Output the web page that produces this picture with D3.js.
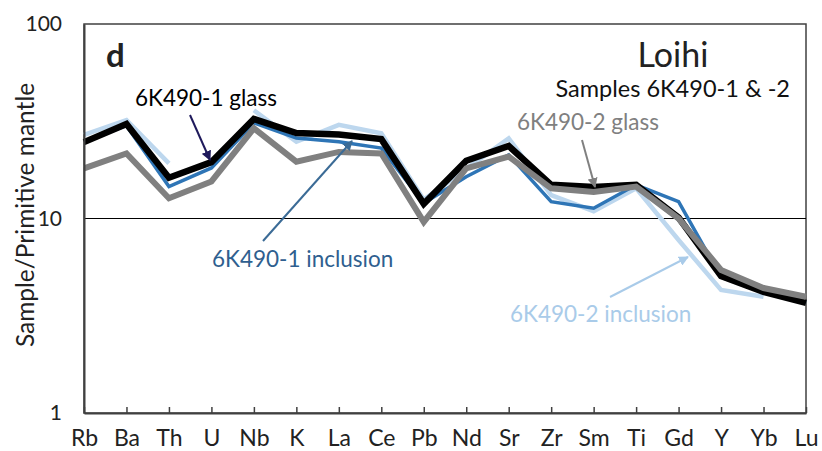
<!DOCTYPE html>
<html>
<head>
<meta charset="utf-8">
<script src="https://cdn.jsdelivr.net/npm/d3@7"></script>
<style>
  body { margin: 0; background: #fff; }
  text { font-family: Lato, "Open Sans", sans-serif; }
</style>
</head>
<body>
<div id="chart"></div>
<script>
// Elements along the x axis
const elements = ["Rb", "Ba", "Th", "U", "Nb", "K", "La", "Ce", "Pb", "Nd", "Sr", "Zr", "Sm", "Ti", "Gd", "Y", "Yb", "Lu"];

// Sample / primitive mantle values (null = no data)
const incl2 = [26.9, 32.1, 19.2, null, 36.0, 24.8, 30.3, 27.4, 12.5, 18.0, 25.8, 13.2, 10.9, 14.3, 7.75, 4.29, 3.96, null];
const incl1 = [25.0, 30.0, 14.6, 18.2, 31.0, 25.9, 24.8, 23.0, 12.0, 16.4, 21.2, 12.2, 11.3, 14.9, 12.2, 5.0, 4.2, 3.7];
const glass1 = [24.7, 30.6, 16.2, 19.5, 32.5, 27.5, 27.0, 25.6, 11.9, 19.8, 23.6, 14.9, 14.5, 14.9, 10.1, 5.06, 4.19, 3.68];
const glass2 = [18.1, 21.6, 12.7, 15.5, 29.1, 19.6, 22.0, 21.6, 9.6, 18.1, 20.8, 14.3, 13.7, 14.6, 10.0, 5.44, 4.39, 3.96];

const yTicks = [1, 10, 100];

// Set dimensions and margins
const margin = { top: 24, right: 16, bottom: 38, left: 84 };
const width = 822 - margin.left - margin.right;
const height = 451 - margin.top - margin.bottom;

const xScale = d3.scalePoint()
    .domain(elements)
    .range([0, width]);

const yScale = d3.scaleLog()
    .domain([1, 100])
    .range([height, 0]);

const root = d3.select("#chart")
    .append("svg")
    .attr("width", width + margin.left + margin.right)
    .attr("height", height + margin.top + margin.bottom);

const svg = root.append("g")
    .attr("transform", `translate(${margin.left}, ${margin.top})`);

// plot frame
svg.append("rect")
    .attr("width", width)
    .attr("height", height)
    .attr("fill", "none")
    .attr("stroke", "#404040")
    .attr("stroke-width", 1.5);

// gridline at 10
svg.append("line")
    .attr("x1", 0)
    .attr("x2", width)
    .attr("y1", yScale(10))
    .attr("y2", yScale(10))
    .attr("stroke", "#000")
    .attr("stroke-width", 1);

// series lines
const series = [
    { name: "6K490-2 inclusion", values: incl2, color: "#bdd7ee", w: 4.5 },
    { name: "6K490-1 inclusion", values: incl1, color: "#2e75b6", w: 3.5 },
    { name: "6K490-1 glass", values: glass1, color: "#000000", w: 6.5 },
    { name: "6K490-2 glass", values: glass2, color: "#808080", w: 6 }
];

const line = d3.line()
    .defined(d => d.v !== null)
    .x(d => xScale(d.el))
    .y(d => yScale(d.v));

series.forEach(s => {
    svg.append("path")
        .datum(elements.map((el, i) => ({ el: el, v: s.values[i] })))
        .attr("fill", "none")
        .attr("stroke", s.color)
        .attr("stroke-width", s.w)
        .attr("stroke-linejoin", "miter")
        .attr("d", line);
});

// x axis, ticks pointing inward
const xAxis = svg.append("g")
    .attr("transform", `translate(0,${height})`)
    .call(d3.axisBottom(xScale).tickSizeInner(-6).tickSizeOuter(0).tickPadding(17));
xAxis.select(".domain").attr("stroke", "#404040").attr("stroke-width", 2);
xAxis.selectAll(".tick line").attr("stroke", "#404040").attr("stroke-width", 1.5);
xAxis.selectAll(".tick text")
    .style("font-size", "23px")
    .attr("fill", "#222");

// y axis
const yAxis = svg.append("g")
    .call(d3.axisLeft(yScale).tickValues(yTicks).tickFormat(d3.format("d")).tickSize(0).tickPadding(22));
yAxis.select(".domain").attr("stroke", "#404040").attr("stroke-width", 2);
yAxis.selectAll(".tick text")
    .style("font-size", "21px")
    .attr("fill", "#222");

// y axis title
svg.append("text")
    .attr("transform", `translate(${25 - margin.left}, ${height / 2 - 3.5}) rotate(-90)`)
    .attr("text-anchor", "middle")
    .attr("dy", "0.35em")
    .style("font-size", "24.5px")
    .attr("fill", "#222")
    .text("Sample/Primitive mantle");

// panel letter and titles (positions relative to svg)
root.append("text")
    .attr("x", 106).attr("y", 67)
    .style("font-size", "33px").style("font-weight", "bold")
    .attr("fill", "#222")
    .text("d");

root.append("text")
    .attr("x", 673).attr("y", 67)
    .attr("text-anchor", "middle")
    .style("font-size", "34px")
    .attr("fill", "#222")
    .text("Loihi");

root.append("text")
    .attr("x", 790).attr("y", 97)
    .attr("text-anchor", "end")
    .style("font-size", "23.5px")
    .attr("fill", "#111")
    .text("Samples 6K490-1 & -2");

// series labels with arrows
const labels = [
    { text: "6K490-1 glass", x: 135, y: 106, color: "#000", arrow: "#1f1a5c", from: [190, 115], to: [210, 160] },
    { text: "6K490-2 glass", x: 517, y: 130, color: "#808080", arrow: "#808080", from: [582, 140], to: [595, 187] },
    { text: "6K490-1 inclusion", x: 212, y: 267, color: "#2f5f8f", arrow: "#3b6b96", from: [263, 241], to: [352, 141] },
    { text: "6K490-2 inclusion", x: 510, y: 322, color: "#a9cbe9", arrow: "#a9cbe9", from: [610, 297], to: [688, 257] }
];

const defs = root.append("defs");

labels.forEach((l, i) => {
    defs.append("marker")
        .attr("id", "arrow" + i)
        .attr("viewBox", "0 0 10 10")
        .attr("refX", 9)
        .attr("refY", 5)
        .attr("markerWidth", 5)
        .attr("markerHeight", 5)
        .attr("orient", "auto")
        .append("path")
        .attr("d", "M0,0 L10,5 L0,10 z")
        .attr("fill", l.arrow);

    root.append("line")
        .attr("x1", l.from[0]).attr("y1", l.from[1])
        .attr("x2", l.to[0]).attr("y2", l.to[1])
        .attr("stroke", l.arrow)
        .attr("stroke-width", 2)
        .attr("marker-end", `url(#arrow${i})`);

    root.append("text")
        .attr("x", l.x).attr("y", l.y)
        .style("font-size", "22.5px")
        .attr("fill", l.color)
        .text(l.text);
});
</script>
</body>
</html>
